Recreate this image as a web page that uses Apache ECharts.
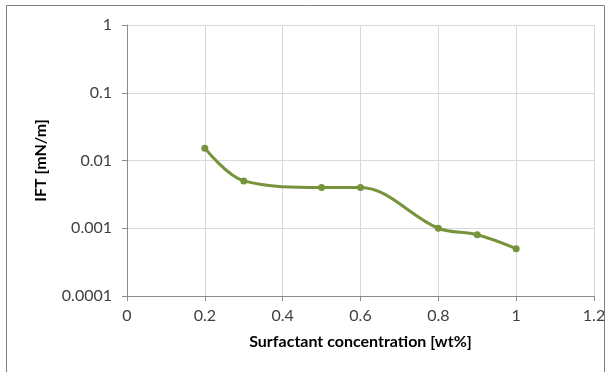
<!DOCTYPE html>
<html><head><meta charset="utf-8">
<script src="https://cdn.jsdelivr.net/npm/echarts@6/dist/echarts.min.js"></script>
<style>html,body{margin:0;padding:0;background:#fff}#c{width:612px;height:372px}</style>
</head><body><div id="c"></div>
<script>
const concentration = [0.2, 0.3, 0.5, 0.6, 0.8, 0.9, 1.0];
const ift = [0.0152, 0.005, 0.004, 0.004, 0.001, 0.0008, 0.0005];
const yTickLabels = ['0.0001', '0.001', '0.01', '0.1', '1'];
const xTickLabels = ['0', '0.2', '0.4', '0.6', '0.8', '1', '1.2'];

const chart = echarts.init(document.getElementById('c'));
const font = 'Lato, "Open Sans", sans-serif';
chart.setOption({
  animation: false,
  graphic: [{type:'rect', shape:{x:6.5,y:5.5,width:598,height:380}, style:{fill:'none', stroke:'#7f7f7f', lineWidth:1}}],
  grid: {left: 127, right: 18, top: 25, bottom: 76},
  xAxis: {
    type: 'value', min: 0, max: 1.2, interval: 0.2,
    name: 'Surfactant concentration [wt%]', nameLocation: 'middle', nameGap: 38,
    nameTextStyle: {fontFamily: font, fontWeight: 'bold', fontSize: 16, color: '#000'},
    axisLine: {show: true, lineStyle: {color: '#8c8c8c'}},
    axisTick: {show: true, length: 5, lineStyle: {color: '#8c8c8c'}},
    axisLabel: {fontFamily: font, fontSize: 16, color: '#404040', margin: 12,
      formatter: v => xTickLabels[Math.round(v / 0.2)]},
    splitLine: {show: true, lineStyle: {color: '#d9d9d9'}}
  },
  yAxis: {
    type: 'log', logBase: 10, min: 0.0001, max: 1,
    name: 'IFT [mN/m]', nameLocation: 'middle', nameGap: 78, nameRotate: 90,
    nameTextStyle: {fontFamily: font, fontWeight: 'bold', fontSize: 16, color: '#000'},
    axisLine: {show: true, lineStyle: {color: '#8c8c8c'}},
    axisTick: {show: true, length: 5, lineStyle: {color: '#8c8c8c'}},
    axisLabel: {fontFamily: font, fontSize: 16, color: '#404040', margin: 15,
      formatter: v => yTickLabels[Math.round(Math.log10(v)) + 4]},
    splitLine: {show: true, lineStyle: {color: '#d9d9d9'}}
  },
  series: [{
    type: 'line', smooth: 0.35,
    data: concentration.map((x, i) => [x, ift[i]]),
    symbol: 'circle', symbolSize: 7,
    itemStyle: {color: '#77933c'},
    lineStyle: {color: '#77933c', width: 3}
  }]
});
</script></body></html>
